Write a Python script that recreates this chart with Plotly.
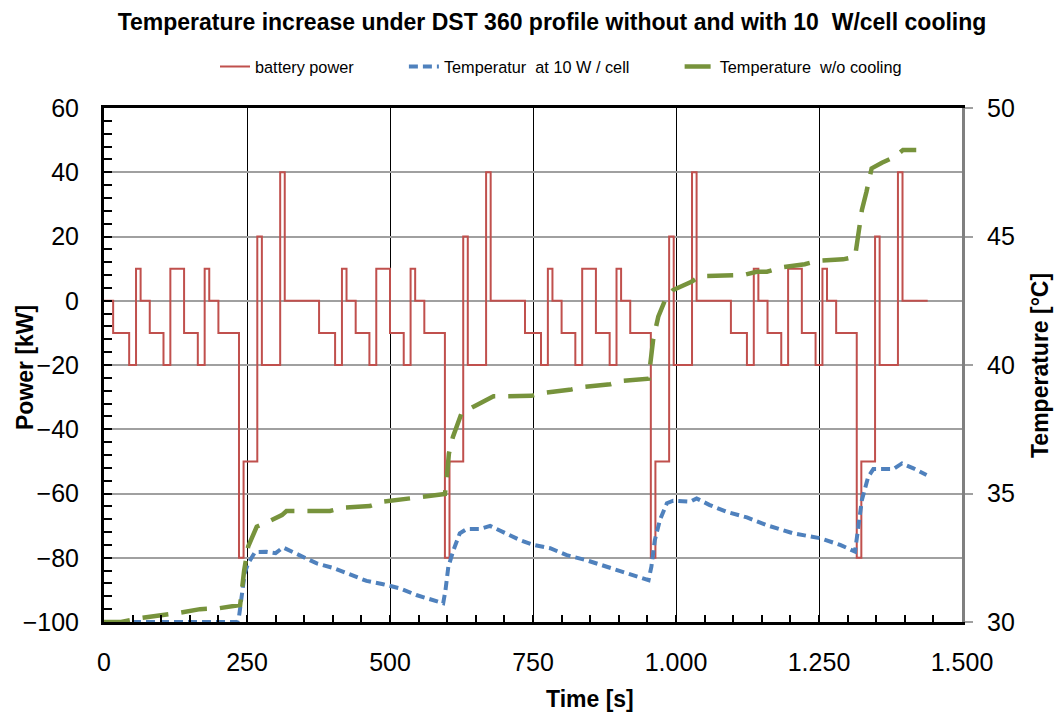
import plotly.graph_objects as go

# ---------------- data ----------------
# battery power step profile (DST 360 s, 4 cycles); value holds from time until next time
power_time = [0, 16, 44, 56, 64, 80, 104, 116, 140, 164, 176, 184, 200, 236, 244, 268, 276, 308, 316,
              360, 376, 404, 416, 424, 440, 464, 476, 500, 524, 536, 544, 560, 596, 604, 628, 636, 668, 676,
              720, 736, 764, 776, 784, 800, 824, 836, 860, 884, 896, 904, 920, 956, 964, 988, 996, 1028, 1036,
              1080, 1096, 1124, 1136, 1144, 1160, 1184, 1196, 1220, 1244, 1256, 1264, 1280, 1316, 1324, 1348, 1356, 1388, 1396,
              1440]
power_kw = [0, -10, -20, 10, 0, -10, -20, 10, -10, -20, 10, 0, -10, -80, -50, 20, -20, 40, 0,
            0, -10, -20, 10, 0, -10, -20, 10, -10, -20, 10, 0, -10, -80, -50, 20, -20, 40, 0,
            0, -10, -20, 10, 0, -10, -20, 10, -10, -20, 10, 0, -10, -80, -50, 20, -20, 40, 0,
            0, -10, -20, 10, 0, -10, -20, 10, -10, -20, 10, 0, -10, -80, -50, 20, -20, 40, 0,
            0]

# temperature with 10 W/cell cooling
t_cool = [0, 100, 200, 233, 236, 241, 246, 252, 264, 284, 300, 313, 343, 372, 401, 430, 459, 488, 517,
          546, 576, 593, 597, 602, 611, 622, 634, 657, 675, 698, 727, 751, 780, 809, 844, 879, 914, 952,
          957, 963, 972, 984, 995, 1025, 1036, 1059, 1088, 1124, 1158, 1205, 1252, 1287, 1313,
          1317, 1325, 1336, 1345, 1380, 1395, 1415, 1438]
temp_cool = [30.0, 30.0, 30.0, 30.0, 30.2, 30.98, 31.9, 32.28, 32.72, 32.73, 32.68, 32.9, 32.57, 32.28, 32.1, 31.87, 31.6, 31.47, 31.31,
             31.05, 30.86, 30.73, 31.24, 32.15, 32.8, 33.45, 33.62, 33.62, 33.74, 33.51, 33.19, 33.0, 32.87, 32.6, 32.4, 32.15, 31.9, 31.63,
             32.15, 33.19, 33.97, 34.62, 34.72, 34.68, 34.81, 34.55, 34.29, 34.07, 33.77, 33.45, 33.26, 33.0, 32.74,
             33.45, 34.75, 35.65, 35.95, 35.95, 36.17, 35.98, 35.72]

# temperature without cooling
t_nocool = [0, 30, 63, 110, 133, 168, 200, 238, 241, 245, 252, 267, 290, 311, 319, 395, 418, 465, 488, 517,
            552, 596, 599, 603, 610, 625, 646, 669, 681, 747, 770, 817, 838, 885, 905, 952,
            955, 960, 969, 981, 995, 1007, 1027, 1042, 1094, 1118, 1141, 1159, 1185, 1225, 1249, 1292, 1313,
            1319, 1325, 1333, 1342, 1360, 1383, 1397, 1420]
temp_nocool = [30.0, 30.0, 30.15, 30.27, 30.36, 30.5, 30.53, 30.66, 31.24, 32.0, 32.93, 33.71, 33.93, 34.16, 34.32, 34.32, 34.45, 34.51, 34.68, 34.75,
               34.84, 34.98, 35.53, 36.56, 37.2, 38.12, 38.38, 38.64, 38.78, 38.8, 38.92, 39.05, 39.15, 39.25, 39.38, 39.47,
               40.07, 40.97, 41.88, 42.53, 42.92, 43.05, 43.24, 43.46, 43.46, 43.5, 43.63, 43.63, 43.8, 43.92, 44.06, 44.11, 44.21,
               45.25, 46.03, 46.74, 47.65, 47.87, 48.1, 48.37, 48.37]

x_ticks = [0, 250, 500, 750, 1000, 1250, 1500]
y_ticks = [-100, -80, -60, -40, -20, 0, 20, 40, 60]
y2_ticks = [30, 35, 40, 45, 50]

TITLE = "Temperature increase under DST 360 profile without and with 10  W/cell cooling"
NAMES = ["battery power", "Temperatur  at 10 W / cell", "Temperature  w/o cooling"]

# ---------------- figure ----------------
sans = "Liberation Sans, Arial, sans-serif"
NB = "\u00a0"

fig = go.Figure()
fig.add_trace(go.Scatter(x=power_time, y=power_kw, name=NAMES[0] + NB * 10, mode="lines",
                         line=dict(color="#C0504D", width=2, shape="hv"), yaxis="y"))
fig.add_trace(go.Scatter(x=t_cool, y=temp_cool, name=NAMES[1] + NB * 10, mode="lines",
                         line=dict(color="#4F81BD", width=4, dash="9px,5px"), yaxis="y2"))
fig.add_trace(go.Scatter(x=t_nocool, y=temp_nocool, name=NAMES[2], mode="lines",
                         line=dict(color="#77933C", width=4.5, dash="26px,13px"), yaxis="y2"))

pw, ph = 1058 - 104 - 96, 716 - 108 - 94

fig.update_layout(
    width=1058, height=716,
    margin=dict(l=104, r=96, t=108, b=94),
    paper_bgcolor="white", plot_bgcolor="white",
    separators=",.",
    showlegend=True,
    title=dict(text="<b>" + TITLE + "</b>", x=552 / 1058, xanchor="center", y=0.969, yanchor="middle",
               font=dict(family=sans, size=23, color="black")),
    legend=dict(orientation="h", x=(215 - 104) / pw, xanchor="left", y=1.08, yanchor="middle",
                font=dict(family=sans, size=16.3, color="black"), bgcolor="rgba(0,0,0,0)",
                traceorder="normal", itemwidth=30),
    xaxis=dict(range=[0, 1500], tickvals=x_ticks, separatethousands=True,
               showline=True, linecolor="black", linewidth=3, mirror=True,
               showgrid=True, gridcolor="black", gridwidth=1,
               ticks="inside", ticklen=7, tickcolor="black", tickwidth=2,
               minor=dict(dtick=50, ticks="inside", ticklen=7, tickcolor="black", tickwidth=1.5, showgrid=False),
               tickfont=dict(family=sans, size=25, color="black"), ticklabelstandoff=16,
               zeroline=False),
    yaxis=dict(range=[-100, 60], tickvals=y_ticks,
               showline=True, linecolor="black", linewidth=3,
               showgrid=True, gridcolor="#A0A0A0", gridwidth=1.5,
               ticks="inside", ticklen=8, tickcolor="black", tickwidth=2,
               minor=dict(dtick=4, ticks="inside", ticklen=8, tickcolor="black", tickwidth=2, showgrid=False),
               tickfont=dict(family=sans, size=25, color="black"), ticklabelstandoff=17,
               zeroline=False),
    yaxis2=dict(range=[30, 50], tickvals=y2_ticks, overlaying="y", side="right",
                showline=True, linecolor="#808080", linewidth=3,
                showgrid=False, ticks="outside", ticklen=8, tickcolor="#A0A0A0", tickwidth=2,
                tickfont=dict(family=sans, size=25, color="black"), ticklabelstandoff=9,
                zeroline=False),
)

# axis titles placed at pixel positions (converted to paper coordinates)
def px(xp, yp):
    return (xp - 104) / pw, (716 - 94 - yp) / ph

for txt, xp, yp, ang in [("<b>Power [kW]</b>", 25, 368, -90),
                         ("<b>Temperature [°C]</b>", 1040, 366, -90),
                         ("<b>Time [s]</b>", 590, 699, 0)]:
    ax, ay = px(xp, yp)
    fig.add_annotation(text=txt, textangle=ang, x=ax, y=ay, xref="paper", yref="paper",
                       xanchor="center", yanchor="middle", showarrow=False,
                       font=dict(family=sans, size=23, color="black"))

fig.write_html("out.html", config={"displayModeBar": False},
               post_script="document.body.style.margin='0px';document.body.style.overflow='hidden';")
